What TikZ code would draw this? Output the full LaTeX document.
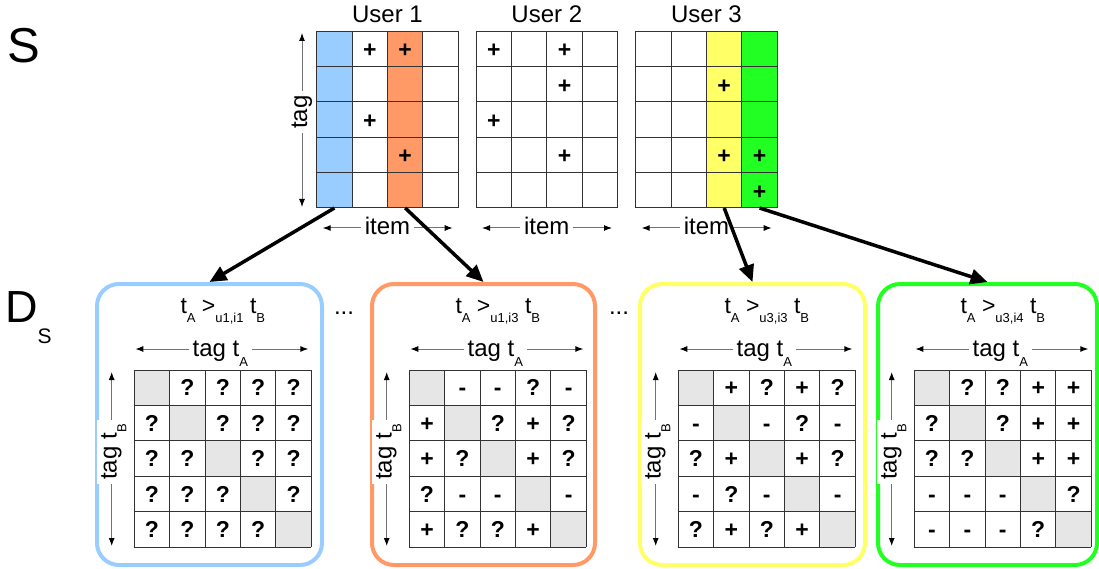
\documentclass[tikz,border=0pt]{standalone}
\usepackage{fontspec}
\setmainfont{Liberation Sans}
\usetikzlibrary{arrows.meta}
\definecolor{tagblue}{HTML}{99CCFF}
\definecolor{tagorange}{HTML}{FF9966}
\definecolor{tagyellow}{HTML}{FFFF66}
\definecolor{taggreen}{HTML}{22FF22}
\definecolor{diaggray}{HTML}{E6E6E6}
\newcommand{\lowsub}[1]{\raisebox{-0.4em}{\fontsize{13}{13}\selectfont #1}}

\begin{document}
\begin{tikzpicture}[x=1pt, y=-1pt, font=\fontsize{24}{28}\selectfont,
    cellmark/.style={font=\fontsize{23}{23}\selectfont\bfseries, inner sep=0pt, text height=16.5pt, text depth=0pt},
    gridline/.style={draw=black!80, line width=1pt},
    axis/.style={draw=black!55, line width=1pt, {Latex[length=8pt, width=6pt, black]}-{Latex[length=8pt, width=6pt, black]}},
    axislabel/.style={fill=white, inner sep=4pt, anchor=base},
    panel/.style={draw, line width=4pt, rounded corners=22pt, minimum height=281pt, inner sep=0pt},
    link/.style={line width=3.5pt, -{Triangle[length=17pt, width=15pt]}}]
  \useasboundingbox (0,0) rectangle (1099,569);

  \node[anchor=base west, inner sep=0pt, font=\fontsize{49}{49}\selectfont] (slabel) at (7,63) {S};
  \node[anchor=base west, inner sep=0pt, font=\fontsize{45}{45}\selectfont] (dlabel) at (5,322) {D\raisebox{-21pt}{\fontsize{21}{21}\selectfont S}};

  % selected item columns
  \fill[tagblue] (316.7,31) rectangle ++(35.4,177);
  \fill[tagorange] (387.5,31) rectangle ++(35.4,177);
  \fill[tagyellow] (706.5,31) rectangle ++(35.4,177);
  \fill[taggreen] (741.9,31) rectangle ++(35.4,177);

  % tag x item matrix of each user
  \foreach \u/\gx in {1/316.7, 2/476, 3/635.7}{
    \node[anchor=base] (user\u) at (\gx+70.8,23) {User \u};
    \draw[gridline, shift={(\gx,31)}, x=35.4pt, y=35.4pt] (0,-5) grid[step=1] (4,0);
    \draw[axis] (\gx+6,228) -- (\gx+136,228);
    \node[axislabel] (item\u) at (\gx+70.8,235) {item};
  }
  \foreach \u/\r/\c in {1/1/2, 1/1/3, 1/3/2, 1/4/3, 2/1/1, 2/1/3, 2/2/3, 2/3/1, 2/4/3, 3/2/3, 3/4/3, 3/4/4, 3/5/4}
    \node[cellmark] (s\u-\r-\c) at (316.7+\u*159.5-159.5+\c*35.4-17.7, 14+\r*35.4) {+};
  \draw[axis] (302,33) -- (302,207);
  \node[axislabel, rotate=90] (tagS) at (307,112) {tag};

  % pairwise tag matrices
  \foreach \p/\col/\pl/\pw/\gx/\ttl in {1/tagblue/97/225/134.3/{u1,i1}, 2/tagorange/372/223/409.3/{u1,i3},
      3/tagyellow/640/225/678.3/{u3,i3}, 4/taggreen/878/219/914.3/{u3,i4}}{
    \node[panel, draw=\col, minimum width=\pw] (p\p) at (\pl+\pw/2,424.5) {};
    \node[anchor=base, font=\fontsize{23}{26}\selectfont] (title\p) at (\gx+88.5,313) {t\lowsub{A} >\lowsub{\ttl} t\lowsub{B}};
    \draw[axis] (\gx+1,349) -- (\gx+174,349);
    \node[axislabel] (tagA\p) at (\gx+86,356.5) {tag t\lowsub{A}};
    \draw[axis] (\gx-22.6,372) -- (\gx-22.6,546);
    \node[axislabel, rotate=90] (tagB\p) at (\gx-17.6,452) {tag t\lowsub{B}};
    \fill[diaggray, shift={(\gx,370)}, x=35.4pt, y=-35.4pt] (0,0) rectangle (1,1) (1,1) rectangle (2,2)
      (2,2) rectangle (3,3) (3,3) rectangle (4,4) (4,4) rectangle (5,5);
    \draw[gridline, shift={(\gx,370)}, x=35.4pt, y=35.4pt] (0,-5) grid[step=1] (5,0);
  }
  \foreach \p/\gx/\rows in {
      1/134.3/{{x,?,?,?,?},{?,x,?,?,?},{?,?,x,?,?},{?,?,?,x,?},{?,?,?,?,x}},
      2/409.3/{{x,-,-,?,-},{+,x,?,+,?},{+,?,x,+,?},{?,-,-,x,-},{+,?,?,+,x}},
      3/678.3/{{x,+,?,+,?},{-,x,-,?,-},{?,+,x,+,?},{-,?,-,x,-},{?,+,?,+,x}},
      4/914.3/{{x,?,?,+,+},{?,x,?,+,+},{?,?,x,+,+},{-,-,-,x,?},{-,-,-,?,x}}}
    \foreach \rw [count=\r] in \rows
      \foreach \m [count=\c] in \rw {
        \ifnum\r=\c\relax\else
          \node[cellmark] (d\p-\r-\c) at (\gx+\c*35.4-17.7, 370+\r*35.4-17.7) {\m};
        \fi
      }

  \node[anchor=base] (dots1) at (344,314) {...};
  \node[anchor=base] (dots2) at (619,314) {...};

  % from item column to its tag pairs
  \coordinate (u1i1) at (334.4,208);
  \coordinate (u1i3) at (405.2,208);
  \coordinate (u3i3) at (724.2,208);
  \coordinate (u3i4) at (759.6,208);
  \foreach \s/\t in {u1i1/p1, u1i3/p2, u3i3/p3, u3i4/p4}
    \draw[link] (\s) -- (\t.north);
\end{tikzpicture}
\end{document}
